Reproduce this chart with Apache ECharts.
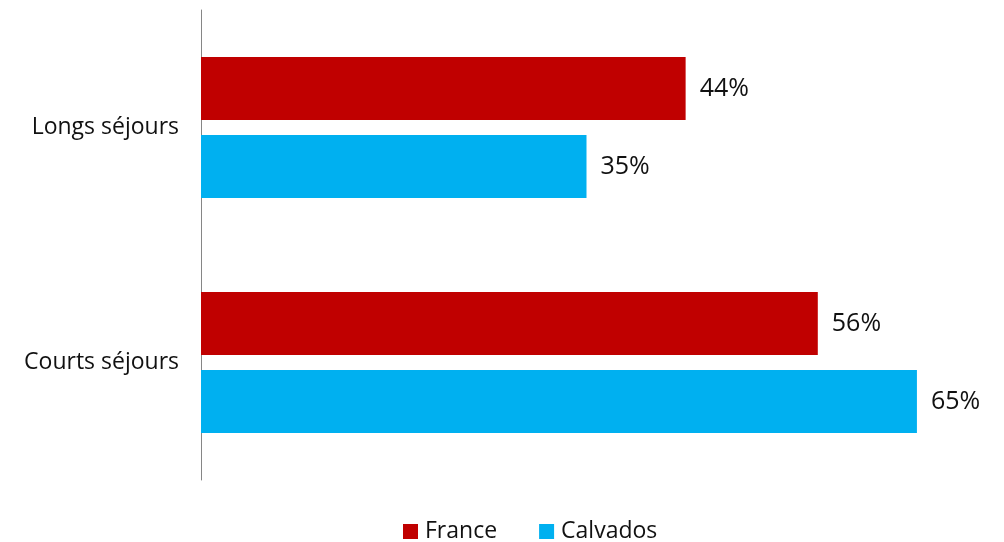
<!DOCTYPE html>
<html>
<head>
<meta charset="utf-8">
<script src="https://cdn.jsdelivr.net/npm/echarts@6/dist/echarts.min.js"></script>
<style>
  html, body { margin: 0; padding: 0; background: #fff; }
  #chart { width: 1004px; height: 542px; }
</style>
</head>
<body>
<div id="chart"></div>
<script>
// données
var categories = ['Longs séjours', 'Courts séjours'];
var seriesNames = ['France', 'Calvados'];
var franceValues = [44, 56];
var calvadosValues = [35, 65];

var chart = echarts.init(document.getElementById('chart'));
var txtFont = '"Open Sans", "Liberation Sans", sans-serif';

var valueLabel = {
    show: true,
    position: 'right',
    distance: 14,
    formatter: '{c}%',
    fontSize: 25,
    color: '#111',
    fontFamily: txtFont
};

var option = {
    animation: false,
    legend: {
        data: seriesNames,
        top: 515,
        left: 398,
        itemWidth: 15,
        itemHeight: 15,
        itemGap: 42,
        icon: 'rect',
        textStyle: { fontSize: 23, color: '#111', fontFamily: txtFont, padding: [0, 0, 0, 2] }
    },
    grid: { left: 201, top: 10, width: 771, height: 470 },
    xAxis: {
        type: 'value',
        min: 0,
        max: 70,
        show: false
    },
    yAxis: {
        type: 'category',
        data: categories,
        inverse: true,
        axisLine: { lineStyle: { color: '#868686', width: 1 } },
        axisTick: { show: false },
        axisLabel: { fontSize: 23, color: '#111', fontFamily: txtFont, margin: 22 }
    },
    series: [
        {
            name: 'France',
            type: 'bar',
            data: franceValues,
            barGap: '24%',
            barCategoryGap: '40%',
            itemStyle: { color: '#C00000' },
            label: valueLabel
        },
        {
            name: 'Calvados',
            type: 'bar',
            data: calvadosValues,
            barGap: '24%',
            barCategoryGap: '40%',
            itemStyle: { color: '#00B0F0' },
            label: valueLabel
        }
    ]
};
chart.setOption(option);
</script>
</body>
</html>
